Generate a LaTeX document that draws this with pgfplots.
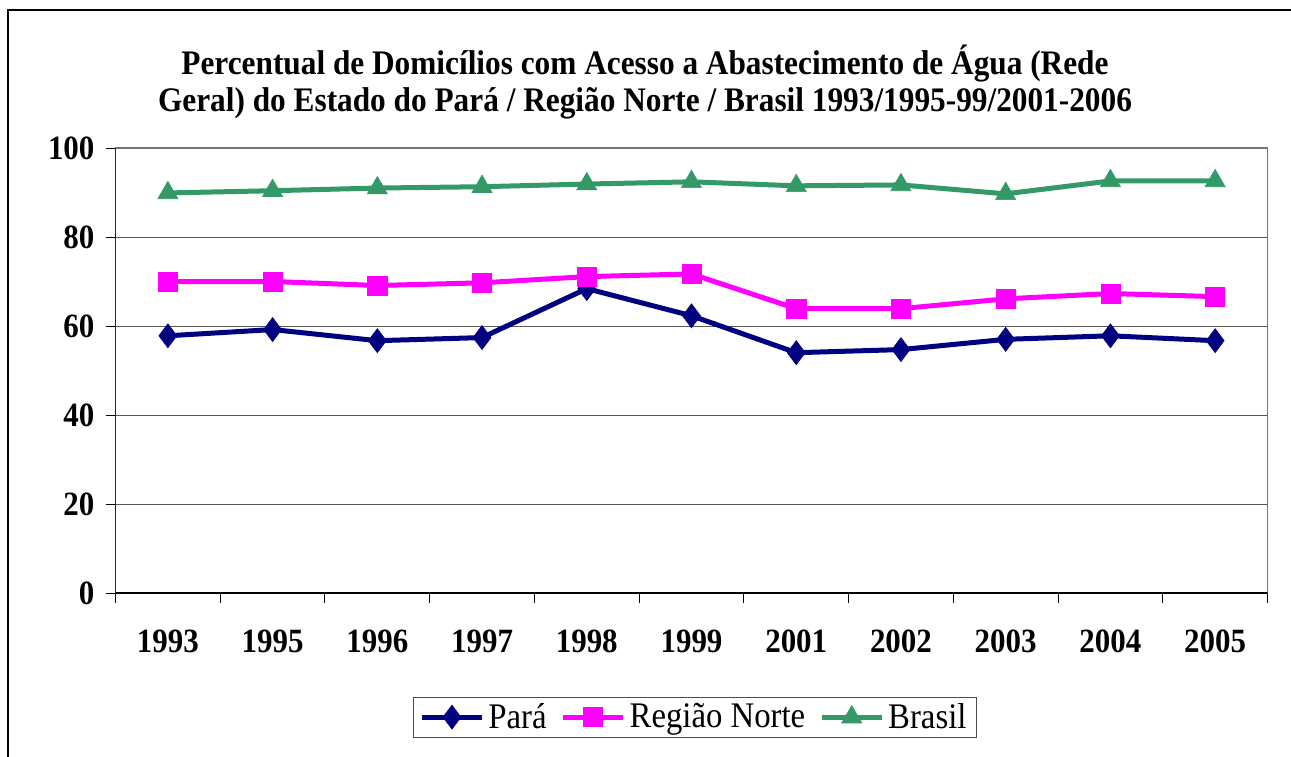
\documentclass[border=0pt]{standalone}
\usepackage{fontspec}
\setmainfont{Liberation Serif}[FakeStretch=0.91]
\usepackage{pgfplots}
\pgfplotsset{compat=1.18}
\definecolor{para}{HTML}{000080}
\definecolor{norte}{HTML}{FF00FF}
\definecolor{brasil}{HTML}{339966}
\begin{document}
\begin{tikzpicture}[x=0.5pt,y=0.5pt]
% picture area in pixels of the reference, origin at the lower left of the plot area
\clip (-115.5,-163) rectangle (1175.5,593);
\draw[black,line width=0.7pt] (-107.5,583) rectangle (1300,-300);
\node[align=center,font=\bfseries\fontsize{17.2}{18.5}\selectfont] at (529.5,511)
  {Percentual de Domicílios com Acesso a Abastecimento de Água (Rede\\
   Geral) do Estado do Pará / Região Norte / Brasil 1993/1995-99/2001-2006};
\begin{axis}[
  at={(0,0)},anchor=south west,
  scale only axis,width=576pt,height=222.5pt,
  xmin=-0.5,xmax=10.5,ymin=0,ymax=100,
  xtick={0,...,10},
  xticklabels={1993,1995,1996,1997,1998,1999,2001,2002,2003,2004,2005},
  minor xtick={-0.5,0.5,...,10.5},
  ytick={0,20,...,100},
  xtick pos=bottom,ytick pos=left,
  tick align=outside,
  major x tick style={draw=none},
  minor tick length=5pt,major tick length=5pt,
  tick style={black,line width=0.5pt},
  ymajorgrids,
  grid style={black!65,line width=0.5pt},
  axis line style={black!55,line width=0.6pt},
  ticklabel style={font=\bfseries\fontsize{17}{19}\selectfont},
  /pgf/number format/assume math mode=true,
  xticklabel shift=10pt,
  yticklabel shift=2pt,
  legend columns=3,
  legend style={at={(0.503,-0.279)},anchor=center,draw=black!70,line width=0.6pt,
    font=\fontsize{18}{19}\selectfont,inner xsep=3pt,inner ysep=1pt,
    /tikz/every even column/.append style={column sep=5pt}},
  legend image code/.code={\draw[mark repeat=2,mark phase=2] plot coordinates {(0pt,0pt) (15pt,0pt) (30pt,0pt)};},
  every axis plot/.append style={line width=2.5pt},
]
\addplot[para,mark=diamond*,mark size=6pt,mark options={solid,line width=0.3pt}] coordinates {
 (0,57.8) (1,59.2) (2,56.7) (3,57.4) (4,68.4) (5,62.3) (6,54.0) (7,54.7) (8,57.0) (9,57.8) (10,56.7)};
\addplot[norte,mark=square*,mark size=4.8pt,mark options={solid,line width=0.3pt}] coordinates {
 (0,70.0) (1,70.0) (2,69.1) (3,69.7) (4,71.1) (5,71.7) (6,63.9) (7,63.9) (8,66.1) (9,67.3) (10,66.6)};
\addplot[brasil,mark=triangle*,mark size=5.8pt,mark options={solid,line width=0.3pt}] coordinates {
 (0,89.9) (1,90.4) (2,91.0) (3,91.3) (4,91.9) (5,92.4) (6,91.5) (7,91.7) (8,89.7) (9,92.6) (10,92.6)};
\legend{Pará,Região Norte,Brasil}
\draw[black,line width=0.6pt] (rel axis cs:0,1) -- (rel axis cs:0,0) -- (rel axis cs:1,0);
\end{axis}
\end{tikzpicture}
\end{document}
